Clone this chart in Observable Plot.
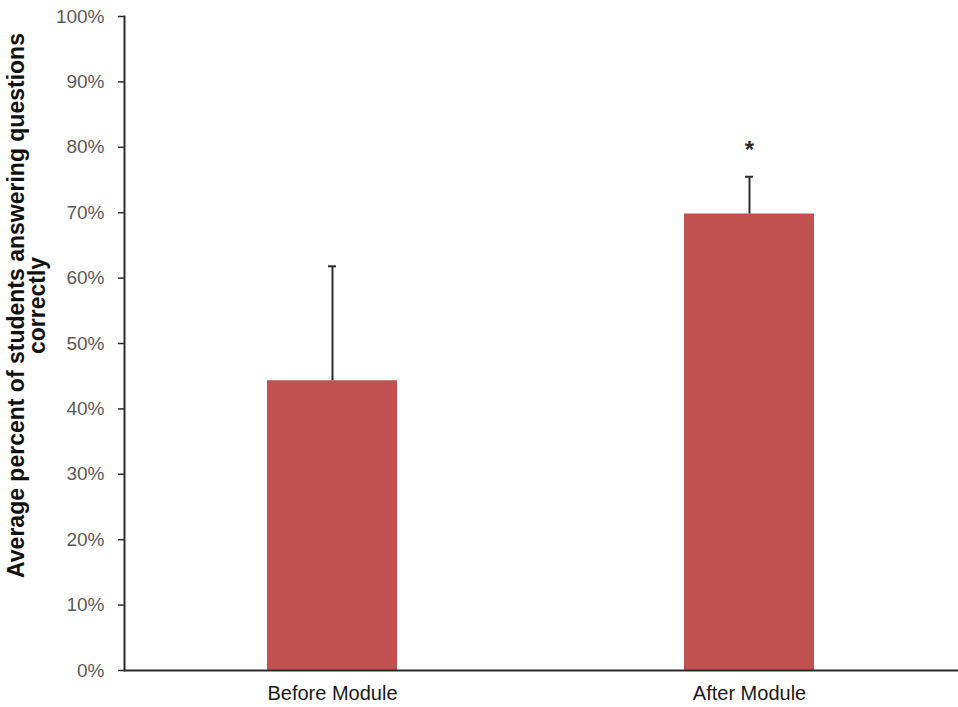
<!DOCTYPE html>
<html>
<head>
<meta charset="utf-8">
<script src="https://cdn.jsdelivr.net/npm/d3@7"></script>
<script src="https://cdn.jsdelivr.net/npm/@observablehq/plot@0.6"></script>
<style>
  html, body { margin: 0; padding: 0; background: #fff; overflow: hidden; }
  #chart svg { display: block; font-family: "Liberation Sans", Arial, sans-serif; }
</style>
</head>
<body>
<div id="chart"></div>
<script>
// Average share of correct answers, before and after the module
const groups = ["Before Module", "After Module"];
const means = [0.443, 0.698];
const errors = [0.175, 0.057];
const significance = ["", "*"];
const yTicks = [0, 0.1, 0.2, 0.3, 0.4, 0.5, 0.6, 0.7, 0.8, 0.9, 1.0];
const yTitle = "Average percent of students answering questions\ncorrectly";

const rows = groups.map((g, i) => ({
  group: g,
  mean: means[i],
  top: means[i] + errors[i],
  sig: significance[i]
}));

const barColor = "#c0514e";
const inkColor = "#2b2b2b";

const chart = Plot.plot({
  width: 958,
  height: 707,
  marginLeft: 124,
  marginRight: 0,
  marginTop: 16,
  marginBottom: 37,
  style: { fontFamily: "Liberation Sans, Arial, sans-serif", background: "#fff" },
  x: { domain: groups, paddingInner: 0.688, paddingOuter: 0.344, label: null },
  y: { domain: [0, 1], label: null },
  marks: [
    Plot.barY(rows, { x: "group", y: "mean", fill: barColor }),
    // error bars: stem plus short cap
    Plot.ruleX(rows, { x: "group", y1: "mean", y2: "top", stroke: inkColor, strokeWidth: 2 }),
    Plot.tickY(rows, { x: "group", y: "top", stroke: inkColor, strokeWidth: 2, insetLeft: 61, insetRight: 61 }),
    Plot.text(rows, { x: "group", y: "top", text: "sig", dy: -26, fontSize: 24, fontWeight: "bold", fill: inkColor }),
    // axes
    Plot.frame({ anchor: "left", stroke: inkColor, strokeWidth: 2 }),
    Plot.ruleY([0], { stroke: inkColor, strokeWidth: 2 }),
    Plot.axisY({
      ticks: yTicks,
      tickFormat: d3.format(".0%"),
      tickSize: 6,
      tickPadding: 14,
      fontSize: 19,
      fill: "#5a5a5a",
      stroke: inkColor,
      strokeWidth: 1.5,
      label: null
    }),
    Plot.axisX({
      tickSize: 0,
      tickPadding: 15,
      fontSize: 20,
      fill: "#1a1a1a",
      label: null
    }),
    // rotated two-line y title
    Plot.text([yTitle], {
      frameAnchor: "left",
      text: d => d,
      rotate: -90,
      dx: -97,
      dy: -38,
      textAnchor: "middle",
      lineAnchor: "middle",
      lineHeight: 0.92,
      fontSize: 23,
      letterSpacing: 0.75,
      fontWeight: "bold",
      fill: "#111"
    })
  ]
});

document.getElementById("chart").appendChild(chart);
</script>
</body>
</html>
